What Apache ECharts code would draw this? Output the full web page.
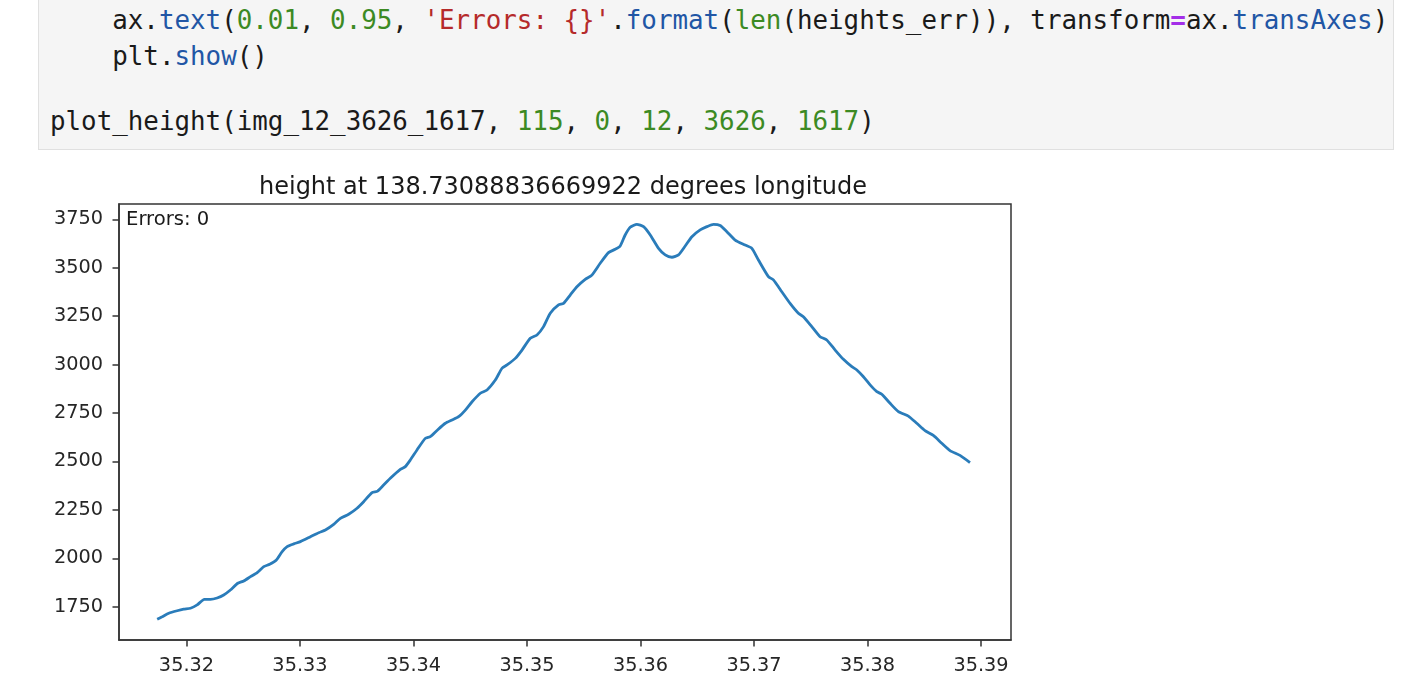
<!DOCTYPE html>
<html>
<head>
<meta charset="utf-8">
<script src="https://cdn.jsdelivr.net/npm/echarts@6/dist/echarts.min.js"></script>
<style>
  html, body { margin: 0; padding: 0; background: #ffffff; }
  #page { position: relative; width: 1410px; height: 700px; overflow: hidden; background: #fff; }
  #chart { position: absolute; left: 0; top: 0; width: 1410px; height: 700px; }
  #cell { position: absolute; left: 38px; top: -10px; width: 1356px; height: 160px;
          background: #f5f5f5; border: 1px solid #e0e0e0; box-sizing: border-box; }
  .ln { position: absolute; left: 50px; height: 34px; line-height: 34px; white-space: pre;
        font-family: "DejaVu Sans Mono", monospace; font-size: 25.85px; color: #1a1a1a; }
  .b { color: #2156a5; } .g { color: #3c8a23; } .r { color: #b52a2a; } .p { color: #a42ee8; font-weight: bold; }
</style>
</head>
<body>
<div id="page">
  <div id="chart"></div>
  <div id="cell"></div>
  <div class="ln" style="top:3px">    ax.<span class="b">text</span>(<span class="g">0.01</span>, <span class="g">0.95</span>, <span class="r">'Errors: {}'</span>.<span class="b">format</span>(<span class="g">len</span>(heights_err)), transform<span class="p">=</span>ax.<span class="b">transAxes</span>)</div>
  <div class="ln" style="top:39px">    plt.<span class="b">show</span>()</div>
  <div class="ln" style="top:104px">plot_height(img_12_3626_1617, <span class="g">115</span>, <span class="g">0</span>, <span class="g">12</span>, <span class="g">3626</span>, <span class="g">1617</span>)</div>
</div>
<script>
const titleText = 'height at 138.73088836669922 degrees longitude';
const errorsText = 'Errors: 0';
const xTicks = [35.32, 35.33, 35.34, 35.35, 35.36, 35.37, 35.38, 35.39];
const yTicks = [1750, 2000, 2250, 2500, 2750, 3000, 3250, 3500, 3750];
const latitudes = [35.31742,35.31786,35.31844,35.31918,35.31976,35.32035,35.32094,35.32158,35.32211,35.32270,
  35.32328,35.32387,35.32452,35.32505,35.32564,35.32623,35.32681,35.32733,35.32792,35.32843,
  35.32887,35.32945,35.33004,35.33092,35.33165,35.33224,35.33297,35.33356,35.33429,35.33503,
  35.33561,35.33635,35.33684,35.33737,35.33796,35.33884,35.33928,35.33972,35.34031,35.34104,
  35.34148,35.34207,35.34281,35.34340,35.34398,35.34457,35.34516,35.34589,35.34648,35.34721,
  35.34780,35.34824,35.34897,35.34956,35.35029,35.35088,35.35146,35.35205,35.35278,35.35322,
  35.35381,35.35440,35.35513,35.35572,35.35645,35.35718,35.35777,35.35821,35.35865,35.35909,
  35.35968,35.36027,35.36086,35.36159,35.36218,35.36277,35.36335,35.36394,35.36453,35.36526,
  35.36585,35.36643,35.36702,35.36761,35.36834,35.36922,35.36981,35.37039,35.37127,35.37171,
  35.37245,35.37318,35.37391,35.37435,35.37509,35.37582,35.37641,35.37715,35.37788,35.37862,
  35.37906,35.37964,35.38023,35.38082,35.38126,35.38199,35.38272,35.38360,35.38434,35.38507,
  35.38580,35.38654,35.38727,35.38815,35.38903];
const heights = [1685,1698,1716,1729,1737,1742,1759,1788,1788,1795,
  1810,1836,1871,1883,1905,1926,1957,1969,1991,2034,
  2060,2074,2086,2111,2132,2146,2175,2206,2227,2258,
  2292,2339,2347,2378,2413,2459,2473,2507,2559,2619,
  2628,2660,2697,2714,2731,2765,2808,2852,2869,2920,
  2981,2998,3032,3075,3136,3153,3196,3265,3308,3316,
  3359,3402,3440,3462,3523,3578,3595,3612,3669,3709,
  3724,3712,3669,3600,3566,3554,3566,3612,3660,3695,
  3712,3724,3718,3686,3643,3617,3600,3540,3454,3437,
  3376,3316,3265,3247,3196,3144,3127,3075,3027,2989,
  2972,2937,2895,2860,2847,2800,2757,2734,2697,2659,
  2634,2594,2556,2531,2494];

const pts = [];
for (let i = 0; i < Math.min(latitudes.length, heights.length); i++) pts.push([latitudes[i], heights[i]]);

const chart = echarts.init(document.getElementById('chart'), null, { renderer: 'canvas' });
const axisColor = '#333';
const font = 'DejaVu Sans';
chart.setOption({
  animation: false,
  backgroundColor: '#fff',
  title: {
    text: titleText, left: 558, top: 171, textAlign: 'center',
    textStyle: { fontFamily: font, fontSize: 24, fontWeight: 'normal', color: '#1a1a1a' }
  },
  grid: { left: 119, right: 399, top: 204, bottom: 60, show: true, borderColor: axisColor, borderWidth: 1.5, backgroundColor: 'transparent' },
  xAxis: {
    type: 'value', min: 35.314056, max: 35.392643,
    splitLine: { show: false },
    axisLine: { show: true, onZero: false, lineStyle: { color: axisColor, width: 1.5 } },
    axisTick: { show: true, length: 6.5, customValues: xTicks, lineStyle: { color: axisColor, width: 1.5 } },
    axisLabel: { customValues: xTicks, margin: 16, fontFamily: font, fontSize: 19.3, color: '#262626',
      formatter: v => Number(v).toFixed(2) }
  },
  yAxis: {
    type: 'value', min: 1578, max: 3829,
    splitLine: { show: false },
    axisLine: { show: true, onZero: false, lineStyle: { color: axisColor, width: 1.5 } },
    axisTick: { show: true, length: 6.5, customValues: yTicks, lineStyle: { color: axisColor, width: 1.5 } },
    axisLabel: { customValues: yTicks, margin: 16, fontFamily: font, fontSize: 19.3, color: '#262626',
      formatter: v => String(Math.round(v)) }
  },
  graphic: [{
    type: 'text', x: 126, y: 220, silent: true,
    style: { text: errorsText, fontFamily: font, fontSize: 19.6, fill: '#1a1a1a', verticalAlign: 'middle', align: 'left' }
  }],
  series: [{
    type: 'line', data: pts, showSymbol: false, smooth: 0.2,
    lineStyle: { color: '#2a7cba', width: 2.8 }, itemStyle: { color: '#2a7cba' }
  }]
});
</script>
</body>
</html>
